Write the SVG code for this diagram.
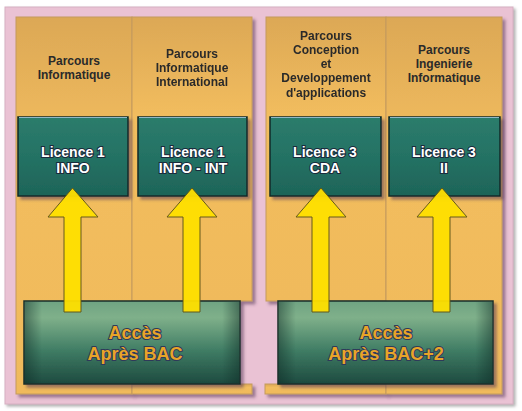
<svg xmlns="http://www.w3.org/2000/svg" width="522" height="411" viewBox="0 0 522 411">
<defs>
<linearGradient id="colG" x1="0" y1="0" x2="0" y2="1">
<stop offset="0" stop-color="#DCA856"/>
<stop offset="0.35" stop-color="#F2BD5E"/>
<stop offset="1" stop-color="#F0BA5B"/>
</linearGradient>
<linearGradient id="licG" x1="0" y1="0" x2="0" y2="1">
<stop offset="0" stop-color="#2C7C6C"/>
<stop offset="0.5" stop-color="#247264"/>
<stop offset="1" stop-color="#1E6458"/>
</linearGradient>
<linearGradient id="accG" x1="0" y1="0" x2="0" y2="1">
<stop offset="0" stop-color="#6FA382"/>
<stop offset="0.2" stop-color="#7FB08A"/>
<stop offset="0.6" stop-color="#3F7C64"/>
<stop offset="1" stop-color="#1D4A3F"/>
</linearGradient>
<linearGradient id="vig" x1="0" y1="0" x2="1" y2="0">
<stop offset="0" stop-color="#0E2A24" stop-opacity="0.45"/>
<stop offset="0.08" stop-color="#0E2A24" stop-opacity="0"/>
<stop offset="0.92" stop-color="#0E2A24" stop-opacity="0"/>
<stop offset="1" stop-color="#0E2A24" stop-opacity="0.45"/>
</linearGradient>
<filter id="sh" x="-10%" y="-10%" width="130%" height="130%">
<feDropShadow dx="3" dy="3" stdDeviation="1.5" flood-color="#5a3a5a" flood-opacity="0.55"/>
</filter>
<filter id="shBg" x="-5%" y="-5%" width="110%" height="110%">
<feDropShadow dx="2" dy="2" stdDeviation="1.5" flood-color="#777" flood-opacity="0.6"/>
</filter>
</defs>
<style>
.col{fill:url(#colG);stroke:#C49A5E;stroke-width:1}
.hdr{font-family:"Liberation Sans",Arial,sans-serif;font-weight:bold;font-size:12px;fill:#2A2A2A;text-anchor:middle}
.lic{fill:url(#licG);stroke:#0F2A28;stroke-width:1.5}
.licT{font-family:"Liberation Sans",Arial,sans-serif;font-weight:bold;font-size:14px;fill:#FFFFFF;stroke:#1A2A3C;stroke-width:2;paint-order:stroke;text-anchor:middle}
.acc{fill:url(#accG);stroke:#1A2E2A;stroke-width:1.5}
.vig{fill:url(#vig)}
.accT{font-family:"Liberation Sans",Arial,sans-serif;font-weight:bold;font-size:18px;fill:#E8A428;stroke:#2E3A5A;stroke-width:2;paint-order:stroke;text-anchor:middle}
.arr{fill:#FFE000;stroke:#5E5418;stroke-width:1;opacity:0.95}
</style>
<rect id="background" x="5" y="7" width="508" height="397" fill="#EAC2D4" stroke="#D6B0C2" stroke-width="1" filter="url(#shBg)"/>
<g id="col1">
<rect class="col" x="16" y="17" width="116" height="377" filter="url(#sh)"/>
<text class="hdr" x="74" y="65">Parcours</text>
<text class="hdr" x="74" y="79">Informatique</text>
</g>
<g id="col2" filter="url(#sh)">
<rect class="col" x="132" y="17" width="120" height="284"/>
<rect class="col" x="132" y="384" width="120" height="10"/>
<text class="hdr" x="192" y="58">Parcours</text>
<text class="hdr" x="192" y="72">Informatique</text>
<text class="hdr" x="192" y="86">International</text>
</g>
<g id="col3" filter="url(#sh)">
<rect class="col" x="266" y="17" width="120" height="284"/>
<rect class="col" x="265" y="384" width="121" height="10"/>
<text class="hdr" x="326" y="40">Parcours</text>
<text class="hdr" x="326" y="54">Conception</text>
<text class="hdr" x="326" y="68">et</text>
<text class="hdr" x="326" y="82">Developpement</text>
<text class="hdr" x="326" y="97">d'applications</text>
</g>
<g id="col4">
<rect class="col" x="386" y="17" width="116" height="377" filter="url(#sh)"/>
<text class="hdr" x="444" y="54">Parcours</text>
<text class="hdr" x="444" y="68">Ingenierie</text>
<text class="hdr" x="444" y="82">Informatique</text>
</g>
<g id="licence1-info">
<rect class="lic" x="18" y="117" width="110" height="79" filter="url(#sh)"/>
<line x1="19" y1="117.5" x2="127" y2="117.5" stroke="#8FB8C8" stroke-width="1"/>
<text class="licT" x="73" y="157">Licence 1</text>
<text class="licT" x="73" y="173">INFO</text>
</g>
<g id="licence1-info-int">
<rect class="lic" x="138" y="117" width="109" height="79" filter="url(#sh)"/>
<line x1="139" y1="117.5" x2="246" y2="117.5" stroke="#8FB8C8" stroke-width="1"/>
<text class="licT" x="193" y="157">Licence 1</text>
<text class="licT" x="193" y="173">INFO - INT</text>
</g>
<g id="licence3-cda">
<rect class="lic" x="270" y="117" width="111" height="79" filter="url(#sh)"/>
<line x1="271" y1="117.5" x2="380" y2="117.5" stroke="#8FB8C8" stroke-width="1"/>
<text class="licT" x="325" y="157">Licence 3</text>
<text class="licT" x="325" y="173">CDA</text>
</g>
<g id="licence3-ii">
<rect class="lic" x="389" y="117" width="111" height="79" filter="url(#sh)"/>
<line x1="390" y1="117.5" x2="499" y2="117.5" stroke="#8FB8C8" stroke-width="1"/>
<text class="licT" x="444" y="157">Licence 3</text>
<text class="licT" x="444" y="173">II</text>
</g>
<g id="acces-bac">
<rect class="acc" x="24" y="301" width="216" height="83" filter="url(#sh)"/>
<rect class="vig" x="24.75" y="301.75" width="214.5" height="81.5"/>
<text class="accT" x="135" y="339">Accès</text>
<text class="accT" x="135" y="360">Après BAC</text>
</g>
<g id="acces-bac2">
<rect class="acc" x="278" y="301" width="215" height="83" filter="url(#sh)"/>
<rect class="vig" x="278.75" y="301.75" width="213.5" height="81.5"/>
<text class="accT" x="386" y="339">Accès</text>
<text class="accT" x="386" y="360">Après BAC+2</text>
</g>
<g id="connectors">
<path class="arr" d="M64,312 L64,217 L48,217 L72.5,188 L98,217 L81,217 L81,312 Z"/>
<path class="arr" d="M183,312 L183,217 L167,217 L192,188 L217,217 L200,217 L200,312 Z"/>
<path class="arr" d="M312,312 L312,217 L296,217 L321,188 L346,217 L329,217 L329,312 Z"/>
<path class="arr" d="M433,312 L433,217 L417,217 L442,188 L467,217 L450,217 L450,312 Z"/>
</g>
</svg>
